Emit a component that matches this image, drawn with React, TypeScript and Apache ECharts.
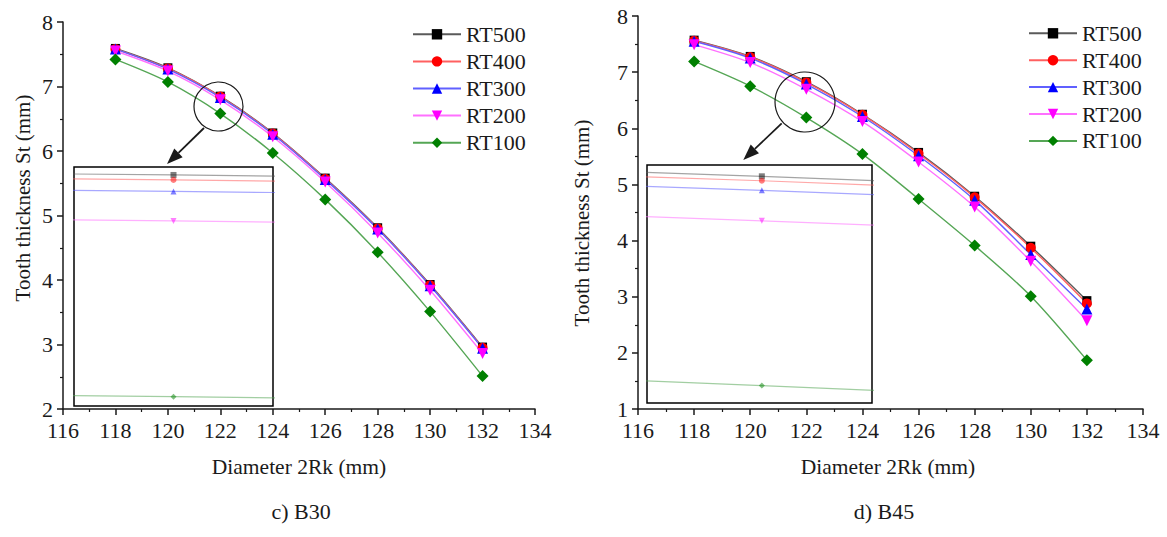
import { useEffect, useRef } from "react";
import * as echarts from "echarts";

// ---------- data ----------
const diameters = [118, 120, 122, 124, 126, 128, 130, 132];
const seriesNames = ["RT500", "RT400", "RT300", "RT200", "RT100"];

const b30RT500 = [7.59, 7.29, 6.85, 6.28, 5.58, 4.81, 3.93, 2.96];
const b30RT400 = [7.58, 7.28, 6.844, 6.27, 5.57, 4.8, 3.92, 2.95];
const b30RT300 = [7.58, 7.27, 6.83, 6.26, 5.56, 4.79, 3.91, 2.94];
const b30RT200 = [7.55, 7.24, 6.794, 6.22, 5.52, 4.73, 3.84, 2.86];
const b30RT100 = [7.42, 7.07, 6.58, 5.97, 5.25, 4.43, 3.51, 2.51];

const b45RT500 = [7.57, 7.28, 6.83, 6.25, 5.57, 4.79, 3.9, 2.93];
const b45RT400 = [7.56, 7.27, 6.8165, 6.24, 5.55, 4.77, 3.87, 2.88];
const b45RT300 = [7.55, 7.25, 6.787, 6.21, 5.51, 4.72, 3.75, 2.78];
const b45RT200 = [7.49, 7.17, 6.694, 6.12, 5.4, 4.6, 3.63, 2.57];
const b45RT100 = [7.19, 6.75, 6.19, 5.54, 4.74, 3.91, 3.01, 1.87];

// axis ranges (tick labels follow from min / max / interval)
const xRange = [116, 134, 2];
const yRangeB30 = [2, 8, 1];
const yRangeB45 = [1, 8, 1];

const xTitle = "Diameter 2Rk (mm)";
const yTitle = "Tooth thickness St (mm)";
const captions = ["c) B30", "d) B45"];

// ---------- styles ----------
const FONT = "Liberation Serif";
const INK = "#1a1a1a";
const lineColors = ["#5a5a5a", "#ff6060", "#6060ff", "#ff70ff", "#55a655"];
const markerColors = ["#000000", "#ff0000", "#0000ff", "#ff00ff", "#008000"];
const symbols = ["rect", "circle", "triangle", "triangle", "diamond"];
const symbolRotations = [0, 0, 0, 180, 0];
const symbolSizes = [9, 10, 11, 11, 12];

function makeSeries(sets: number[][], xi: number, yi: number, inset: boolean) {
  return sets.map((vals, k) => ({
    type: "line",
    name: seriesNames[k],
    xAxisIndex: xi,
    yAxisIndex: yi,
    data: diameters.map((d, i) => [d, vals[i]]),
    smooth: 0.3,
    clip: true,
    symbol: symbols[k],
    symbolRotate: symbolRotations[k],
    symbolSize: inset ? 6 : symbolSizes[k],
    showSymbol: true,
    lineStyle: { color: lineColors[k], width: inset ? 1.2 : 1.4, opacity: inset ? 0.55 : 1 },
    itemStyle: { color: markerColors[k], opacity: inset ? 0.5 : 1 },
    emphasis: { disabled: true },
    z: inset ? 6 : 2,
  }));
}

function mainAxis(gridIndex: number, range: number[], isX: boolean) {
  return {
    type: "value",
    gridIndex,
    min: range[0],
    max: range[1],
    interval: range[2],
    axisLine: { show: true, onZero: false, lineStyle: { color: INK, width: 1.5 } },
    axisTick: { show: true, inside: false, length: 6, lineStyle: { color: INK, width: 1.5 } },
    minorTick: { show: true, splitNumber: 2, length: 3, lineStyle: { color: INK, width: 1.2 } },
    axisLabel: { fontSize: 22, color: INK, fontFamily: FONT, margin: isX ? 10 : 10 },
    splitLine: { show: false },
  };
}

function hiddenAxis(gridIndex: number, min: number, max: number) {
  return { type: "value", gridIndex, min, max, show: false, splitLine: { show: false } };
}

function text(x: number, y: number, t: string, size: number, rotation = 0) {
  return {
    type: "text",
    x,
    y,
    rotation,
    silent: true,
    style: {
      text: t,
      fontSize: size,
      fontFamily: FONT,
      fill: INK,
      align: "center",
      verticalAlign: "middle",
    },
    z: 20,
  };
}

function arrow(x1: number, y1: number, x2: number, y2: number) {
  const dx = x2 - x1;
  const dy = y2 - y1;
  const len = Math.sqrt(dx * dx + dy * dy);
  const ux = dx / len;
  const uy = dy / len;
  const head = 16;
  const half = 6;
  const bx = x2 - ux * head;
  const by = y2 - uy * head;
  return [
    { type: "line", shape: { x1, y1, x2: bx, y2: by }, style: { stroke: INK, lineWidth: 1.8 }, z: 20 },
    {
      type: "polygon",
      shape: {
        points: [
          [x2, y2],
          [bx + uy * half, by - ux * half],
          [bx - uy * half, by + ux * half],
        ],
      },
      style: { fill: INK },
      z: 20,
    },
  ];
}

export default function App() {
  const ref = useRef<HTMLDivElement>(null);

  useEffect(() => {
    if (!ref.current) return;
    const chart = echarts.init(ref.current, null, { renderer: "svg" });
    const b30 = [b30RT500, b30RT400, b30RT300, b30RT200, b30RT100];
    const b45 = [b45RT500, b45RT400, b45RT300, b45RT200, b45RT100];

    const legendCommon = {
      orient: "vertical",
      data: seriesNames,
      itemWidth: 48,
      itemHeight: 13,
      padding: 0,
      selectedMode: false,
      textStyle: { fontSize: 22, fontFamily: FONT, color: INK },
    };

    chart.setOption({
      animation: false,
      backgroundColor: "#ffffff",
      textStyle: { fontFamily: FONT },
      grid: [
        { left: 63, top: 22, width: 472, height: 387 },
        { left: 638, top: 16, width: 505, height: 393 },
        {
          left: 74, top: 167, width: 199, height: 239, show: true,
          backgroundColor: "#ffffff", borderColor: "#000000", borderWidth: 1.5, z: 5,
        },
        {
          left: 647, top: 165, width: 225, height: 238, show: true,
          backgroundColor: "#ffffff", borderColor: "#000000", borderWidth: 1.5, z: 5,
        },
      ],
      xAxis: [
        mainAxis(0, xRange, true),
        mainAxis(1, xRange, true),
        hiddenAxis(2, 121.995, 122.005),
        hiddenAxis(3, 121.951, 122.047),
      ],
      yAxis: [
        mainAxis(0, yRangeB30, false),
        mainAxis(1, yRangeB45, false),
        hiddenAxis(2, 6.5686, 6.8597),
        hiddenAxis(3, 6.1367, 6.8646),
      ],
      legend: [
        { ...legendCommon, left: 412, top: 23.3, itemGap: 5.1 },
        { ...legendCommon, left: 1028, top: 22.3, itemGap: 4.9 },
      ],
      series: [
        ...makeSeries(b30, 0, 0, false),
        ...makeSeries(b45, 1, 1, false),
        ...makeSeries(b30, 2, 2, true),
        ...makeSeries(b45, 3, 3, true),
      ],
      graphic: [
        text(23, 198, yTitle, 21, Math.PI / 2),
        text(582, 223, yTitle, 21, Math.PI / 2),
        text(299, 467, xTitle, 21.5),
        text(888, 467, xTitle, 21.5),
        text(301, 511, captions[0], 22),
        text(884, 511, captions[1], 22),
        {
          type: "circle",
          shape: { cx: 218.5, cy: 106.5, r: 24.5 },
          style: { fill: "none", stroke: INK, lineWidth: 1.2 },
          z: 20,
        },
        {
          type: "circle",
          shape: { cx: 805, cy: 102, r: 30 },
          style: { fill: "none", stroke: INK, lineWidth: 1.2 },
          z: 20,
        },
        ...arrow(204, 128, 167, 164),
        ...arrow(781.7, 123.3, 743.3, 160),
      ],
    });

    return () => chart.dispose();
  }, []);

  return (
    <div
      ref={ref}
      style={{ position: "absolute", left: 0, top: 0, width: 1167, height: 537 }}
    />
  );
}
